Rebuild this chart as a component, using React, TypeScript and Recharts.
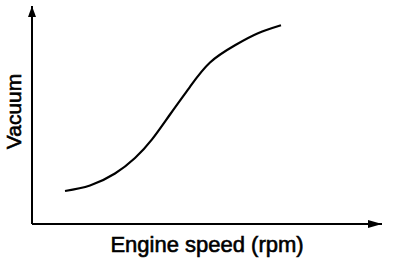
import React from 'react';
import { LineChart, Line, XAxis, YAxis, Label } from 'recharts';

// Engine speed (arbitrary units, 0-100 along the x axis)
const engineSpeed = [9.43, 16.57, 23.71, 29.43, 34.29, 39.43, 45.14, 50.86, 58.0, 64.57, 71.14];
// Vacuum (arbitrary units, 0-100 along the y axis)
const vacuum = [15.14, 17.66, 23.17, 30.28, 38.8, 50.23, 62.94, 74.08, 81.97, 87.48, 91.15];

const xTitle = 'Engine speed (rpm)';
const yTitle = 'Vacuum';

const data = engineSpeed.map((s, i) => ({ speed: s, vacuum: vacuum[i] }));

const FONT = '"Liberation Sans", Arial, sans-serif';

const XTitle = (props: any) => {
  const vb = props.viewBox ?? { x: 32, y: 224, width: 350, height: 1 };
  return (
    <text
      x={vb.x + vb.width / 2}
      y={vb.y + 28}
      textAnchor="middle"
      fontFamily={FONT}
      fontSize={22}
      fill="#000"
      stroke="#000"
      strokeWidth={0.6}
    >
      {xTitle}
    </text>
  );
};

const YTitle = (props: any) => {
  const vb = props.viewBox ?? { x: 31, y: 6, width: 1, height: 218 };
  const bx = vb.x + vb.width - 11;
  const cy = vb.y + vb.height / 2 - 3.5;
  return (
    <text
      x={bx}
      y={cy}
      transform={`rotate(-90, ${bx}, ${cy})`}
      textAnchor="middle"
      fontFamily={FONT}
      fontSize={21}
      fill="#000"
      stroke="#000"
      strokeWidth={0.6}
    >
      {yTitle}
    </text>
  );
};

export default function App() {
  return (
    <div style={{ position: 'absolute', left: 0, top: 0, width: 400, height: 266, background: '#fff' }}>
      <LineChart width={400} height={266} data={data} margin={{ top: 6, right: 18, bottom: 41, left: 31 }}>
        <defs>
          <marker id="arrowX" markerUnits="userSpaceOnUse" markerWidth={14} markerHeight={8} refX={14} refY={4} orient="auto">
            <path d="M0,0 L14,4 L0,8 z" fill="#000" />
          </marker>
          <marker id="arrowY" markerUnits="userSpaceOnUse" markerWidth={11} markerHeight={8} refX={11} refY={4} orient="auto-start-reverse">
            <path d="M0,0 L11,4 L0,8 z" fill="#000" />
          </marker>
        </defs>
        <XAxis
          dataKey="speed"
          type="number"
          domain={[0, 100]}
          height={1}
          tick={false}
          tickLine={false}
          axisLine={{ stroke: '#000', strokeWidth: 2, markerEnd: 'url(#arrowX)' }}
        >
          <Label content={XTitle} />
        </XAxis>
        <YAxis
          type="number"
          domain={[0, 100]}
          width={1}
          tick={false}
          tickLine={false}
          axisLine={{ stroke: '#000', strokeWidth: 2, markerStart: 'url(#arrowY)' }}
        >
          <Label content={YTitle} />
        </YAxis>
        <Line
          type="natural"
          dataKey="vacuum"
          stroke="#000"
          strokeWidth={2.2}
          dot={false}
          isAnimationActive={false}
        />
      </LineChart>
    </div>
  );
}
